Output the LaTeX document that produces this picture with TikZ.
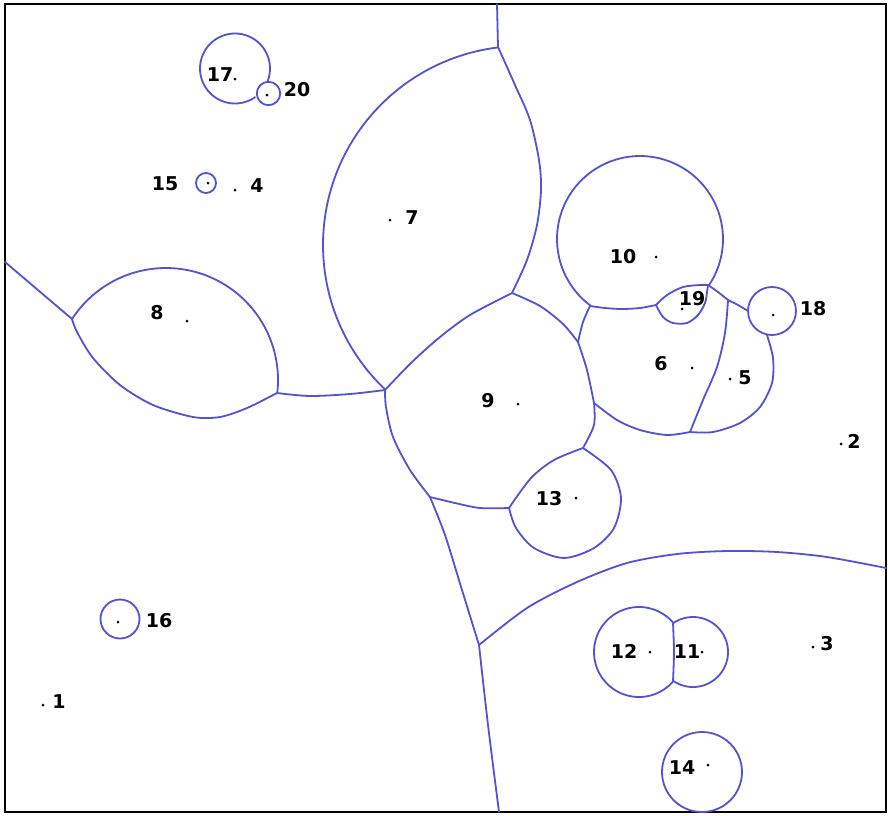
\documentclass[tikz,border=0pt]{standalone}
\usepackage{fontspec}
\setmainfont{DejaVu Sans}
\definecolor{vblue}{RGB}{82,82,212}
\begin{document}
\begin{tikzpicture}[x=1pt,y=-1pt,
  vb/.style={draw=vblue,line width=1.8pt,line join=round,line cap=round},
  site/.style={circle,fill=black,inner sep=0pt,minimum size=3pt},
  lab/.style={font=\bfseries\fontsize{19}{22}\selectfont,inner sep=0pt,text=black}]
\useasboundingbox (0,0) rectangle (888,815);
\draw[line width=2.2pt] (5,4) rectangle (886,812);

% ---- outer / big cells ----
\draw[vb] (497,4) -- (498,47);
\draw[vb] plot[domain=96.9:226.4,samples=80,smooth] ({522-199*cos(180-\x)},{245-199*sin(\x)});
\draw[vb] plot[smooth] coordinates {(498,47) (515,85) (530,120) (539,160) (541,190) (537,225) (527,260) (512,293)};
\draw[vb] plot[smooth] coordinates {(512,293) (470,315) (440,337) (412,362) (385,390)};
\draw[vb] plot[smooth] coordinates {(512,293) (540,306) (563,324) (578,342)};
\draw[vb] plot[smooth] coordinates {(385,390) (350,394) (310,396) (277,393)};
% cell 8
\draw[vb] (5,262) -- (72,319);
\draw[vb] plot[domain=213:366.7,samples=80,smooth] ({166+112*cos(\x)},{380+112*sin(\x)});
\draw[vb] plot[smooth] coordinates {(72,319) (77,332) (93,358) (120,385) (153,405) (193,417) (220,417) (247,408) (277,393)};
% cell 9
\draw[vb] plot[smooth] coordinates {(385,390) (386,407) (393,437) (410,470) (430,497)};
\draw[vb] plot[smooth] coordinates {(430,497) (455,503) (480,508) (509,508)};
\draw[vb] plot[smooth] coordinates {(578,342) (587,370) (594,403)};
\draw[vb] plot[smooth] coordinates {(594,403) (594,425) (583,448)};
% cell 13
\draw[vb] plot[smooth] coordinates {(509,508) (531,478) (554,460) (583,448)};
\draw[vb] plot[smooth] coordinates {(583,448) (611,470) (621,498) (614,528) (594,548) (564,558) (534,548) (516,528) (509,508)};
% lower lines
\draw[vb] plot[smooth] coordinates {(430,497) (445,535) (462,590) (479,645)};
\draw[vb] plot[smooth] coordinates {(479,645) (488,725) (499,812)};
\draw[vb] plot[smooth] coordinates {(479,645) (527,608) (577,582) (627,563) (677,554) (727,551) (777,552) (827,557) (886,568)};

% ---- cells 10, 19, 6, 5, 18 ----
\draw[vb] plot[smooth] coordinates {(578,342) (583,322) (590,306)};
\draw[vb] plot[domain=126.7:393.7,samples=100,smooth] ({640+83*cos(\x)},{239+83*sin(\x)});
\draw[vb] plot[smooth] coordinates {(590,306) (605,308) (622,309) (640,308) (656,305)};
\draw[vb] plot[smooth] coordinates {(656,305) (667,295) (683,287) (700,285) (708,285)};
\draw[vb] plot[smooth] coordinates {(708,285) (707,292) (705,303) (698,315) (687,323) (673,323) (663,317) (656,305)};
\draw[vb] plot[smooth] coordinates {(708,285) (718,292) (728,300)};
\draw[vb] plot[smooth] coordinates {(728,300) (738,305) (748,311)};
\draw[vb] plot[smooth] coordinates {(728,300) (725,333) (717,367) (703,400) (690,432)};
\draw[vb] (772,311) circle[radius=24pt];
\draw[vb] plot[smooth] coordinates {(767,335) (773,358) (772,383) (760,407) (740,423) (713,432) (690,432)};
\draw[vb] plot[smooth] coordinates {(690,432) (667,435) (640,430) (617,420) (594,403)};

% ---- isolated circles ----
\draw[vb] plot[domain=55:382,samples=90,smooth] ({235+35*cos(\x)},{68.5+35*sin(\x)});
\draw[vb] (268.5,93.5) circle[radius=11.7pt];
\draw[vb] (206,183) circle[radius=10pt];
\draw[vb] (120,619) circle[radius=19.5pt];
\draw[vb] plot[domain=41:319,samples=80,smooth] ({639+45*cos(\x)},{652+45*sin(\x)});
\draw[vb] plot[domain=-124.6:124.6,samples=70,smooth] ({693+35*cos(\x)},{652+35*sin(\x)});
\draw[vb] plot[smooth] coordinates {(673,623) (674,652) (673,681)};
\draw[vb] (702,772) circle[radius=40pt];

% ---- sites ----
\node[site] (s1) at (43,705) {};
\node[site] (s2) at (841,444) {};
\node[site] (s3) at (813,647) {};
\node[site] (s4) at (235,190) {};
\node[site] (s5) at (730,379) {};
\node[site] (s6) at (692,368) {};
\node[site] (s7) at (390,220) {};
\node[site] (s8) at (187,321) {};
\node[site] (s9) at (518,404) {};
\node[site] (s10) at (656,257) {};
\node[site] (s11) at (702,652) {};
\node[site] (s12) at (650,652) {};
\node[site] (s13) at (576,498) {};
\node[site] (s14) at (708,765) {};
\node[site] (s15) at (208,183) {};
\node[site] (s16) at (118,622) {};
\node[site] (s17) at (235,79) {};
\node[site] (s18) at (773,315) {};
\node[site] (s19) at (682,309) {};
\node[site] (s20) at (267,95) {};

% ---- labels ----
\node[lab] (l1) at (59,702) {1};
\node[lab] (l2) at (854,441) {2};
\node[lab] (l3) at (827,644) {3};
\node[lab] (l4) at (257,186) {4};
\node[lab] (l5) at (745,378) {5};
\node[lab] (l6) at (661,364) {6};
\node[lab] (l7) at (412,218) {7};
\node[lab] (l8) at (157,313) {8};
\node[lab] (l9) at (488,401) {9};
\node[lab] (l10) at (623,257) {10};
\node[lab] (l11) at (687,652) {11};
\node[lab] (l12) at (624,651) {12};
\node[lab] (l13) at (549,499) {13};
\node[lab] (l14) at (682,768) {14};
\node[lab] (l15) at (165,184) {15};
\node[lab] (l16) at (159,621) {16};
\node[lab] (l17) at (220,75) {17};
\node[lab] (l18) at (813,309) {18};
\node[lab] (l19) at (692,299) {19};
\node[lab] (l20) at (297,90) {20};
\end{tikzpicture}
\end{document}
